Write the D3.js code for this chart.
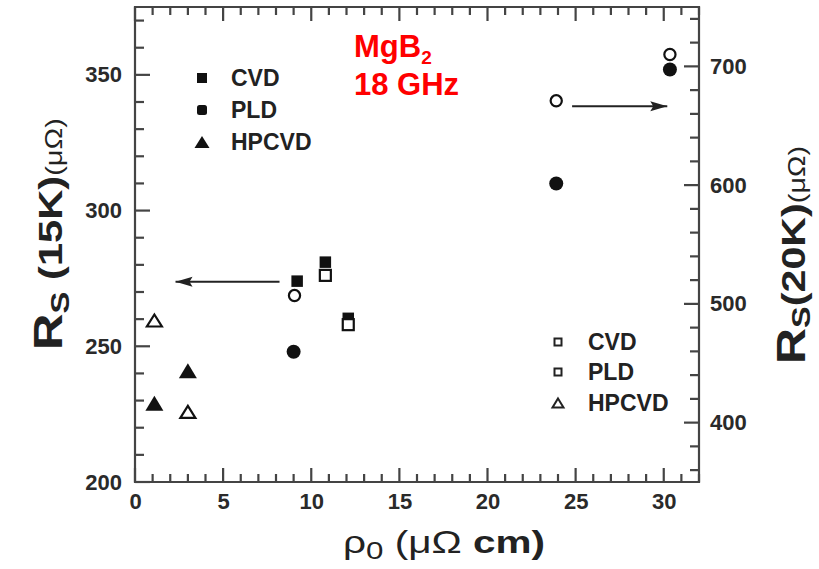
<!DOCTYPE html>
<html><head><meta charset="utf-8">
<script src="https://cdn.jsdelivr.net/npm/d3@7"></script>
<style>body{margin:0;background:#fff}svg{display:block}</style>
</head><body>
<svg id="c" width="819" height="569"></svg>
<script>
// ---- data ----
const xTicks = [0, 5, 10, 15, 20, 25, 30];
const yLeftTicks = [200, 250, 300, 350];
const yRightTicks = [400, 500, 600, 700];

const cvdRho15 = [9.2, 10.8, 12.1];
const cvdRs15 = [274, 281, 260.3];
const pldRho15 = [9.0, 23.9, 30.35];
const pldRs15 = [248, 310, 352];
const hpRho15 = [1.1, 3.0];
const hpRs15 = [229, 241];

const cvdRho20 = [10.8, 12.1];
const cvdRs20 = [524, 482.5];
const pldRho20 = [9.05, 23.9, 30.35];
const pldRs20 = [507, 671, 710];
const hpRho20 = [1.1, 3.0];
const hpRs20 = [486, 409];

const legendLabels = ["CVD", "PLD", "HPCVD"];
const arrowLeft = {from: 8.2, to: 2.3, value: 273.8};
const arrowRight = {from: 24.8, to: 30.2, value: 666.5};

// ---- layout ----
const svg = d3.select("#c");
const L = 135, R = 699, T = 7, B = 482;
const x = d3.scaleLinear().domain([0, 32]).range([L, R]);
const yL = d3.scaleLinear().domain([200, 375]).range([B, T]);
const yR = d3.scaleLinear().domain([350, 750]).range([B, T]);
const FONT = "'Liberation Sans', Arial, Helvetica, sans-serif";
const axisCol = "#444";

const minorX = d3.range(0, 33, 1).filter(v => v % 5 !== 0);
const minorYL = d3.range(200, 376, 10).filter(v => v % 50 !== 0);
const minorYR = d3.range(360, 751, 20).filter(v => v % 100 !== 0);

// frame
svg.append("path")
  .attr("d", `M${L},${T}H${R}V${B}H${L}Z`)
  .attr("fill", "none").attr("stroke", axisCol).attr("stroke-width", 2.2);

// tick marks (inward), positioned through scales
const tickG = svg.append("g");
function hTicks(vals, y0, dir, len) {
  tickG.append("g").selectAll("line").data(vals).join("line")
    .attr("x1", d => x(d)).attr("x2", d => x(d))
    .attr("y1", y0).attr("y2", y0 + dir * len)
    .attr("stroke", axisCol).attr("stroke-width", 2.2);
}
function vTicks(vals, scale, x0, dir, len) {
  tickG.append("g").selectAll("line").data(vals).join("line")
    .attr("y1", d => scale(d)).attr("y2", d => scale(d))
    .attr("x1", x0).attr("x2", x0 + dir * len)
    .attr("stroke", axisCol).attr("stroke-width", 2.2);
}
hTicks(xTicks, B, -1, 14); hTicks(minorX, B, -1, 8);
hTicks(xTicks, T, 1, 14); hTicks(minorX, T, 1, 8);
vTicks(yLeftTicks, yL, L, 1, 15); vTicks(minorYL, yL, L, 1, 9);
vTicks(yRightTicks, yR, R, -1, 15); vTicks(minorYR, yR, R, -1, 9);

// tick labels via d3 axes
function styleAxis(g) {
  g.select(".domain").remove();
  g.selectAll(".tick line").remove();
  g.selectAll(".tick text").attr("font-family", FONT).attr("font-weight", "bold")
    .attr("font-size", 22).attr("fill", "#2a2a2a");
}
svg.append("g").attr("transform", `translate(0,${B})`)
  .call(d3.axisBottom(x).tickValues(xTicks).tickSize(0).tickPadding(11).tickFormat(d3.format("d")))
  .call(styleAxis);
svg.append("g").attr("transform", `translate(${L},0)`)
  .call(d3.axisLeft(yL).tickValues(yLeftTicks).tickSize(0).tickPadding(13).tickFormat(d3.format("d")))
  .call(styleAxis);
svg.append("g").attr("transform", `translate(${R},0)`)
  .call(d3.axisRight(yR).tickValues(yRightTicks).tickSize(0).tickPadding(11).tickFormat(d3.format("d")))
  .call(styleAxis);

// ---- markers ----
function tri(w, h) { return `M0,${-h/2}L${w/2},${h/2}L${-w/2},${h/2}Z`; }
const plot = svg.append("g");

function sq(sel, xs, ys, yscale, size, filled) {
  sel.selectAll(null).data(xs.map((v, i) => [v, ys[i]])).join("rect")
    .attr("x", d => x(d[0]) - size/2).attr("y", d => yscale(d[1]) - size/2)
    .attr("width", size).attr("height", size)
    .attr("fill", filled ? "#111" : "#fff").attr("stroke", "#111").attr("stroke-width", filled ? 0 : 2.2);
}
function circ(sel, xs, ys, yscale, r, filled) {
  sel.selectAll(null).data(xs.map((v, i) => [v, ys[i]])).join("circle")
    .attr("cx", d => x(d[0])).attr("cy", d => yscale(d[1])).attr("r", r)
    .attr("fill", filled ? "#111" : "#fff").attr("stroke", "#111").attr("stroke-width", filled ? 0 : 2.2);
}
function triM(sel, xs, ys, yscale, w, h, filled) {
  sel.selectAll(null).data(xs.map((v, i) => [v, ys[i]])).join("path")
    .attr("transform", d => `translate(${x(d[0])},${yscale(d[1])})`)
    .attr("d", tri(w, h))
    .attr("fill", filled ? "#111" : "#fff").attr("stroke", "#111").attr("stroke-width", filled ? 0 : 2.2);
}

sq(plot.append("g"), cvdRho15, cvdRs15, yL, 11.5, true);
circ(plot.append("g"), pldRho15, pldRs15, yL, 7, true);
triM(plot.append("g"), hpRho15, hpRs15, yL, 18, 15, true);

sq(plot.append("g"), cvdRho20, cvdRs20, yR, 11, false);
circ(plot.append("g"), pldRho20, pldRs20, yR, 5.6, false);
triM(plot.append("g"), hpRho20, hpRs20, yR, 15, 12, false);

// arrows
function arrow(a, yscale, dir) {
  const y0 = yscale(a.value);
  svg.append("line").attr("x1", x(a.from)).attr("x2", x(a.to)).attr("y1", y0).attr("y2", y0)
    .attr("stroke", "#222").attr("stroke-width", 2);
  const tip = x(a.to);
  const back = tip - dir * 17;
  svg.append("path")
    .attr("d", `M${tip},${y0}L${back},${y0 - 5}L${back + dir*3},${y0}L${back},${y0 + 5}Z`)
    .attr("fill", "#222");
}
arrow(arrowLeft, yL, -1);
arrow(arrowRight, yR, 1);

// ---- legends ----
const lg1 = svg.append("g");
const lg1y = [78, 110, 142];
lg1.append("rect").attr("x", 197).attr("y", lg1y[0] - 5).attr("width", 10).attr("height", 10).attr("fill", "#111");
lg1.append("rect").attr("x", 197).attr("y", lg1y[1] - 5).attr("width", 10).attr("height", 10).attr("rx", 2.5).attr("fill", "#111");
lg1.append("path").attr("transform", `translate(202,${lg1y[2]})`).attr("d", tri(15, 12)).attr("fill", "#111");
lg1.selectAll("text").data(legendLabels).join("text")
  .attr("x", 231).attr("y", (d, i) => lg1y[i]).attr("dy", "0.36em")
  .attr("font-family", FONT).attr("font-weight", "bold").attr("font-size", 23).attr("fill", "#222")
  .text(d => d);

const lg2 = svg.append("g");
const lg2y = [342, 372, 403];
[0, 1].forEach(i => lg2.append("rect").attr("x", 554.5).attr("y", lg2y[i] - 3.5).attr("width", 7).attr("height", 7)
  .attr("fill", "#fff").attr("stroke", "#222").attr("stroke-width", 2));
lg2.append("path").attr("transform", `translate(558,${lg2y[2]})`).attr("d", tri(11, 9))
  .attr("fill", "#fff").attr("stroke", "#222").attr("stroke-width", 2);
lg2.selectAll("text").data(legendLabels).join("text")
  .attr("x", 588).attr("y", (d, i) => lg2y[i]).attr("dy", "0.36em")
  .attr("font-family", FONT).attr("font-weight", "bold").attr("font-size", 23).attr("fill", "#222")
  .text(d => d);

// ---- red annotation ----
const ann = svg.append("text").attr("x", 354).attr("y", 57)
  .attr("font-family", FONT).attr("font-weight", "bold").attr("font-size", 31).attr("fill", "#ff0000");
ann.append("tspan").text("MgB");
ann.append("tspan").attr("font-size", 19).attr("dy", 7).text("2");
svg.append("text").attr("x", 354).attr("y", 95)
  .attr("font-family", FONT).attr("font-weight", "bold").attr("font-size", 31).attr("fill", "#ff0000")
  .text("18 GHz");

// ---- axis titles ----
function fitLen(textSel, cx, cy, rot, target) {
  const len = textSel.node().getComputedTextLength();
  const s = Math.max(0.7, Math.min(1.6, target / len));
  textSel.attr("transform", `translate(${cx},${cy}) rotate(${rot}) scale(${s},1)`);
}
const lt = svg.append("text").attr("text-anchor", "middle").attr("font-family", FONT).attr("fill", "#222");
lt.append("tspan").attr("font-weight", "bold").attr("font-size", 40).text("R");
lt.append("tspan").attr("font-weight", "bold").attr("font-size", 26).attr("dy", 7).text("S");
lt.append("tspan").attr("font-weight", "bold").attr("font-size", 33).attr("dy", -7).text(" (15K)");
lt.append("tspan").attr("font-size", 23).text("(μΩ)");
fitLen(lt, 62, 234, -90, 232);

const rt = svg.append("text").attr("text-anchor", "middle").attr("font-family", FONT).attr("fill", "#222");
rt.append("tspan").attr("font-weight", "bold").attr("font-size", 40).text("R");
rt.append("tspan").attr("font-weight", "bold").attr("font-size", 26).attr("dy", 5).text("S");
rt.append("tspan").attr("font-weight", "bold").attr("font-size", 33).attr("dy", -5).text("(20K)");
rt.append("tspan").attr("font-size", 23).text("(μΩ)");
fitLen(rt, 805, 255, -90, 218);

const xt = svg.append("text").attr("text-anchor", "middle")
  .attr("font-family", FONT).attr("fill", "#222").attr("font-size", 31);
xt.append("tspan").text("ρ");
xt.append("tspan").attr("font-size", 24).attr("dy", 6).text("0");
xt.append("tspan").attr("dy", -6).text(" (μΩ ");
xt.append("tspan").attr("font-weight", "bold").text("cm)");
fitLen(xt, 444, 553, 0, 202);
</script>
</body></html>
